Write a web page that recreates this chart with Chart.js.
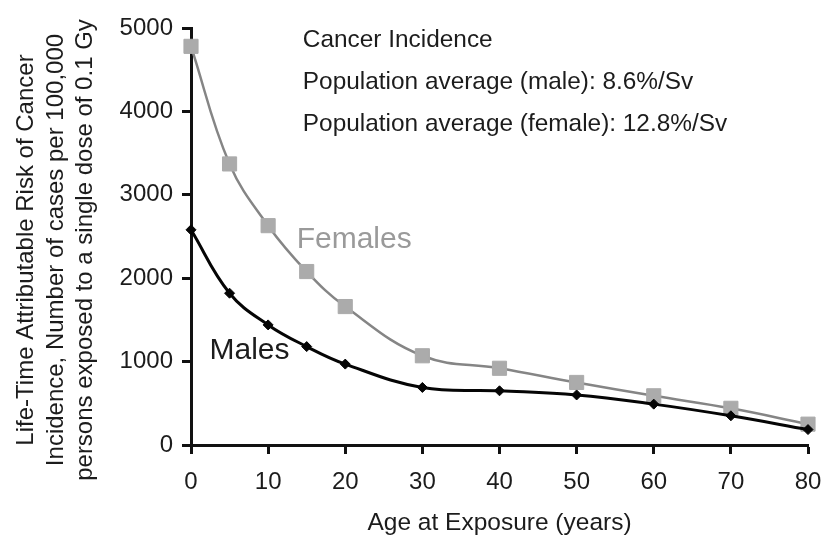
<!DOCTYPE html>
<html>
<head>
<meta charset="utf-8">
<script src="https://cdn.jsdelivr.net/npm/chart.js@4.4.1/dist/chart.umd.min.js"></script>
<style>
  html, body { margin: 0; padding: 0; background: #ffffff; }
  #wrap { width: 822px; height: 538px; position: relative; }
</style>
</head>
<body>
<div id="wrap"><canvas id="chart" width="822" height="538"></canvas></div>
<script>
// Lifetime attributable risk of cancer incidence by age at exposure
const ages = [0, 5, 10, 15, 20, 30, 40, 50, 60, 70, 80];
const femaleRisk = [4780, 3370, 2630, 2080, 1660, 1070, 920, 750, 590, 440, 250];
const maleRisk = [2580, 1820, 1440, 1180, 970, 690, 650, 600, 490, 350, 185];

const xTickValues = [0, 10, 20, 30, 40, 50, 60, 70, 80];
const yTickValues = [0, 1000, 2000, 3000, 4000, 5000];

const xTitle = 'Age at Exposure (years)';
const yTitleLines = [
  'Life-Time Attributable Risk of Cancer',
  'Incidence, Number of cases per 100,000',
  'persons exposed to a single dose of 0.1 Gy'
];
const infoLines = [
  'Cancer Incidence',
  'Population average (male): 8.6%/Sv',
  'Population average (female): 12.8%/Sv'
];
const seriesNames = ['Females', 'Males'];

const FONT = '"Liberation Sans", Arial, Helvetica, sans-serif';
const INK = '#1c1c1c';

const toPoints = (xs, ys) => xs.map((x, i) => ({ x: x, y: ys[i] }));

// Text drawn inside the plot: notes, series names and the stacked y-axis title
const textPlugin = {
  id: 'chartText',
  afterDraw(chart) {
    const ctx = chart.ctx;
    const xs = chart.scales.x, ys = chart.scales.y;
    ctx.save();
    ctx.textBaseline = 'alphabetic';
    ctx.textAlign = 'left';

    // notes in the upper right
    ctx.fillStyle = INK;
    ctx.font = '24.4px ' + FONT;
    const noteX = xs.getPixelForValue(14.5);
    const noteY = [4770, 4270, 3760];
    infoLines.forEach((t, i) => ctx.fillText(t, noteX, ys.getPixelForValue(noteY[i])));

    // series names next to their curves
    ctx.font = '30px ' + FONT;
    ctx.fillStyle = '#9a9a9a';
    ctx.fillText(seriesNames[0], xs.getPixelForValue(13.7), ys.getPixelForValue(2360));
    ctx.fillStyle = INK;
    ctx.fillText(seriesNames[1], xs.getPixelForValue(2.4), ys.getPixelForValue(1030));

    // y-axis title, three rotated lines
    ctx.font = '24px ' + FONT;
    ctx.fillStyle = INK;
    ctx.textAlign = 'center';
    const baselines = [33, 62.5, 92];
    const midY = 250;
    yTitleLines.forEach((t, i) => {
      ctx.save();
      ctx.translate(baselines[i], midY);
      ctx.rotate(-Math.PI / 2);
      ctx.fillText(t, 0, 0);
      ctx.restore();
    });
    ctx.restore();
  }
};

const axisStyle = {
  grid: { display: true, drawOnChartArea: false, drawTicks: true, tickLength: 9, tickWidth: 3, tickColor: '#111111' },
  border: { display: true, color: '#111111', width: 3 }
};

new Chart(document.getElementById('chart'), {
  type: 'line',
  data: {
    datasets: [
      {
        label: seriesNames[0],
        data: toPoints(ages, femaleRisk),
        borderColor: '#858585',
        borderWidth: 2.5,
        pointStyle: 'rect',
        pointRadius: 10,
        pointHoverRadius: 10,
        pointBackgroundColor: '#ababab',
        pointBorderColor: '#ababab',
        pointBorderWidth: 1,
        tension: 0.4,
        clip: false,
        order: 2
      },
      {
        label: seriesNames[1],
        data: toPoints(ages, maleRisk),
        borderColor: '#050505',
        borderWidth: 3,
        pointStyle: 'rectRot',
        pointRadius: 5,
        pointHoverRadius: 5,
        pointBackgroundColor: '#050505',
        pointBorderColor: '#050505',
        pointBorderWidth: 1,
        tension: 0.4,
        clip: false,
        order: 1
      }
    ]
  },
  options: {
    responsive: false,
    animation: false,
    devicePixelRatio: 1,
    layout: { padding: { top: 28, right: 0, left: 0, bottom: 0 } },
    plugins: {
      legend: { display: false },
      tooltip: { enabled: false }
    },
    scales: {
      x: {
        type: 'linear',
        min: 0,
        max: 80,
        afterBuildTicks: (s) => { s.ticks = xTickValues.map(v => ({ value: v })); },
        afterFit: (s) => { s.height = 93; s.paddingRight = 14; s.paddingLeft = 0; },
        ticks: { font: { size: 24, family: FONT }, color: INK, padding: 14, maxRotation: 0,
                 callback: (v) => String(v) },
        title: { display: true, text: xTitle, font: { size: 24.5, family: FONT }, color: INK, padding: { top: 0, bottom: 0 } },
        ...axisStyle
      },
      y: {
        type: 'linear',
        min: 0,
        max: 5000,
        afterBuildTicks: (s) => { s.ticks = yTickValues.map(v => ({ value: v })); },
        afterFit: (s) => { s.width = 191; },
        ticks: { font: { size: 24, family: FONT }, color: INK, padding: 9,
                 callback: (v) => String(v) },
        ...axisStyle
      }
    }
  },
  plugins: [textPlugin]
});
</script>
</body>
</html>
